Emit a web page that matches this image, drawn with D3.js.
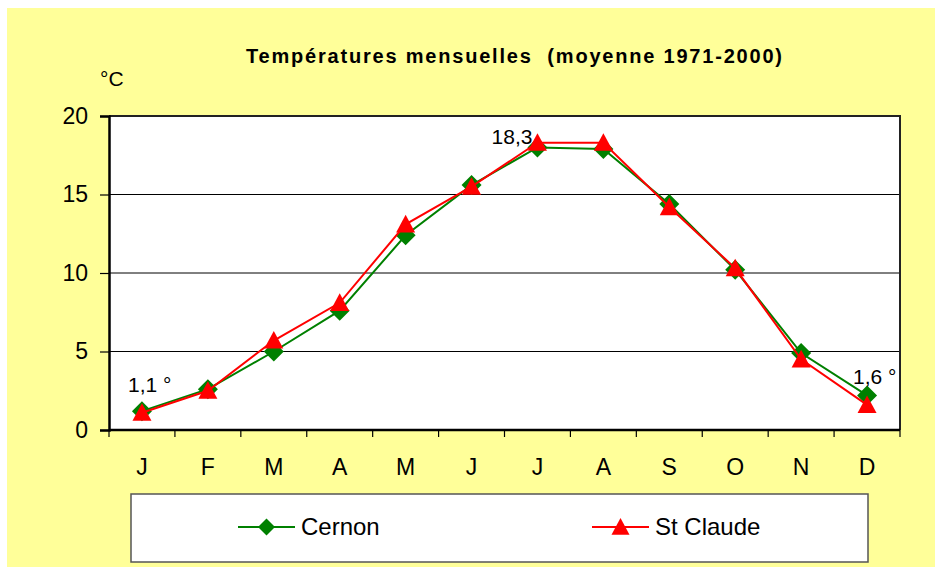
<!DOCTYPE html>
<html lang="fr">
<head>
<meta charset="UTF-8">
<title>Températures mensuelles</title>
<script src="https://d3js.org/d3.v7.min.js"></script>
<style>
  body { margin: 0; background: #fff; }
  svg { display: block; font-family: "Liberation Sans", Arial, sans-serif; }
  .title { font-size: 20px; font-weight: bold; text-anchor: middle; }
  .tick-label { font-size: 23px; }
  .data-label { font-size: 21px; }
  .legend-text { font-size: 24px; }
</style>
</head>
<body>
<div id="chart"></div>
<script>
// months (tick labels)
const months = ["J", "F", "M", "A", "M", "J", "J", "A", "S", "O", "N", "D"];
// mean monthly temperatures, °C
const cernon = [1.2, 2.6, 5.0, 7.6, 12.4, 15.6, 18.0, 17.9, 14.4, 10.2, 4.9, 2.2];
const stClaude = [1.1, 2.5, 5.7, 8.1, 13.1, 15.5, 18.3, 18.3, 14.2, 10.3, 4.5, 1.6];
const yTicks = [0, 5, 10, 15, 20];
// data labels: month index, value, text
const labels = [
  { i: 0, v: 1.1, text: "1,1 °" },
  { i: 6, v: 18.3, text: "18,3" },
  { i: 11, v: 1.6, text: "1,6 °" }
];

const W = 935, H = 567;
const plot = { left: 109, right: 900, top: 116, bottom: 430 };

const svg = d3.select("#chart").append("svg")
  .attr("width", W).attr("height", H);

// yellow background
svg.append("rect")
  .attr("x", 7).attr("y", 8)
  .attr("width", W - 7).attr("height", H - 8)
  .attr("fill", "#FFFF99");

const x = d3.scaleBand()
  .domain(d3.range(months.length))
  .range([plot.left, plot.right]);

const y = d3.scaleLinear()
  .domain([0, 20])
  .range([plot.bottom, plot.top]);

// plot area
svg.append("rect")
  .attr("x", plot.left).attr("y", plot.top)
  .attr("width", plot.right - plot.left)
  .attr("height", plot.bottom - plot.top)
  .attr("fill", "#fff");

// gridlines
svg.append("g")
  .selectAll("line")
  .data(yTicks.filter(d => d > 0))
  .join("line")
  .attr("x1", plot.left).attr("x2", plot.right)
  .attr("y1", d => y(d)).attr("y2", d => y(d))
  .attr("stroke", "#000").attr("stroke-width", 1);

// border top / right
svg.append("path")
  .attr("d", `M${plot.left},${plot.top}H${plot.right}V${plot.bottom}`)
  .attr("fill", "none").attr("stroke", "#222").attr("stroke-width", 2);

// Y axis
const yAxis = svg.append("g")
  .attr("transform", `translate(${plot.left},0)`)
  .call(d3.axisLeft(y).tickValues(yTicks).tickSize(9).tickPadding(12));
yAxis.select(".domain").attr("stroke-width", 2.5);
yAxis.selectAll(".tick line").attr("stroke-width", 1.2);
yAxis.selectAll(".tick text")
  .attr("class", "tick-label")
  .attr("font-family", null).attr("font-size", null)
  .attr("fill", "#000");

// X axis: ticks at band boundaries
const xAxis = svg.append("g")
  .attr("transform", `translate(0,${plot.bottom})`);
xAxis.append("line")
  .attr("x1", plot.left).attr("x2", plot.right)
  .attr("stroke", "#000").attr("stroke-width", 2.5);
xAxis.selectAll(".xtick")
  .data(d3.range(months.length + 1))
  .join("line")
  .attr("class", "xtick")
  .attr("x1", i => i < months.length ? x(i) : plot.right)
  .attr("x2", i => i < months.length ? x(i) : plot.right)
  .attr("y1", 0).attr("y2", 7)
  .attr("stroke", "#000").attr("stroke-width", 1.2);
xAxis.selectAll(".month")
  .data(months)
  .join("text")
  .attr("class", "tick-label")
  .attr("x", (d, i) => x(i) + x.bandwidth() / 2)
  .attr("y", 45)
  .attr("text-anchor", "middle")
  .text(d => d);

const cx = i => x(i) + x.bandwidth() / 2;
const line = d3.line().x((d, i) => cx(i)).y(d => y(d));

const diamond = s => `M0,${-s}L${s},0L0,${s}L${-s},0Z`;
const triangle = s => `M0,${-s}L${s},${s * 0.85}L${-s},${s * 0.85}Z`;

// Cernon
svg.append("path").datum(cernon)
  .attr("d", line).attr("fill", "none")
  .attr("stroke", "#008000").attr("stroke-width", 2);
svg.append("g").selectAll("path")
  .data(cernon)
  .join("path")
  .attr("transform", (d, i) => `translate(${cx(i)},${y(d)})`)
  .attr("d", diamond(10))
  .attr("fill", "#008000");

// St Claude
svg.append("path").datum(stClaude)
  .attr("d", line).attr("fill", "none")
  .attr("stroke", "#FF0000").attr("stroke-width", 2);
svg.append("g").selectAll("path")
  .data(stClaude)
  .join("path")
  .attr("transform", (d, i) => `translate(${cx(i)},${y(d)})`)
  .attr("d", triangle(9.5))
  .attr("fill", "#FF0000");

// data labels
svg.append("g").selectAll("text")
  .data(labels)
  .join("text")
  .attr("class", "data-label")
  .attr("x", d => d.i === 6 ? cx(d.i) - 5 : cx(d.i) - 14)
  .attr("y", d => d.i === 6 ? y(d.v) + 1 : y(d.v) - 21)
  .attr("text-anchor", d => d.i === 6 ? "end" : "start")
  .text(d => d.text);

// title and unit
svg.append("text")
  .attr("class", "title")
  .attr("x", 514).attr("y", 63)
  .attr("textLength", 536)
  .attr("lengthAdjust", "spacing")
  .style("white-space", "pre")
  .text("Températures mensuelles  (moyenne 1971-2000)");
svg.append("text")
  .attr("x", 100).attr("y", 86)
  .attr("font-size", 21)
  .text("°C");

// legend
const legend = svg.append("g");
legend.append("rect")
  .attr("x", 131).attr("y", 494)
  .attr("width", 737).attr("height", 68)
  .attr("fill", "#fff").attr("stroke", "#555").attr("stroke-width", 1.5);

const items = [
  { name: "Cernon", color: "#008000", shape: diamond(8.5), x: 238 },
  { name: "St Claude", color: "#FF0000", shape: triangle(9), x: 592 }
];
const li = legend.selectAll(".item")
  .data(items)
  .join("g")
  .attr("transform", d => `translate(${d.x},527)`);
li.append("line")
  .attr("x1", 0).attr("x2", 57)
  .attr("stroke", d => d.color).attr("stroke-width", 2);
li.append("path")
  .attr("transform", "translate(28.5,0)")
  .attr("d", d => d.shape)
  .attr("fill", d => d.color);
li.append("text")
  .attr("class", "legend-text")
  .attr("x", 63).attr("y", 8)
  .text(d => d.name);
</script>
</body>
</html>
